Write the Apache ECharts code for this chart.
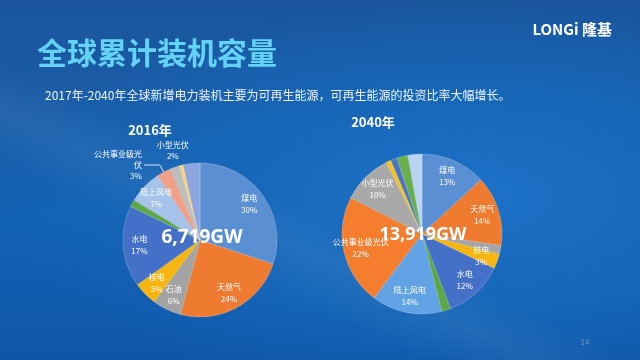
<!DOCTYPE html>
<html><head><meta charset="utf-8">
<script src="https://cdn.jsdelivr.net/npm/echarts@6/dist/echarts.min.js"></script>
<style>
html,body{margin:0;padding:0;width:640px;height:360px;overflow:hidden;}
body{
  background:
    linear-gradient(205deg, rgba(255,255,255,0) 55%, rgba(255,255,255,0.05) 62%, rgba(255,255,255,0) 70%),
    radial-gradient(ellipse at 72% 55%, #1d72c8 0%, #1767b9 35%, rgba(21,96,176,0) 70%),
    linear-gradient(180deg, #1a559c 0%, #1a5da8 30%, #1462b4 60%, #0f56a8 100%);
}
#c{width:640px;height:360px;}
</style></head><body><div id="c"></div>
<script>
// ---- data ----
const cats2016 = ['煤电','天然气','石油','核电','水电','生物质','陆上风电','公共事业级光伏','小型光伏','地热','其他'];
const vals2016 = [30, 24, 6, 5, 17, 1.5, 7, 3, 2, 0.8, 3.5];
const cats2040 = ['煤电','天然气','石油','核电','水电','生物质','陆上风电','公共事业级光伏','小型光伏','地热','海上风电','其他可再生','其他'];
const vals2040 = [13, 14, 1.7, 3, 12, 1.8, 14, 22, 10, 1.0, 1.3, 2.2, 2.8];
const total2016 = '6,719GW';
const total2040 = '13,919GW';
const year2016 = '2016年';
const year2040 = '2040年';
const unlabeled = ['生物质','地热','其他','海上风电','其他可再生'];
const unlabeled2040 = ['石油'];
const topLabel2016 = '小型光伏';

// ---- styles ----
const colors2016 = ['#5b8fd4','#ee7b30','#a3a3a3','#f7b50f','#4470c8','#5ea843','#a6c3ec','#f2a087','#bdbdbd','#ffd37a','#8ea6df'];
const colors2040 = ['#5b8fd4','#ee7b30','#a5a5a5','#f7b50f','#4470c8','#5ea843','#62a3e6','#f47d2e','#a9a9a9','#f9c31e','#4a74c8','#6ab04a','#b9d4f2'];

const C1 = [200, 240], R1 = 77;
const C2 = [422, 234], R2 = 80;
const FONT = '"Noto Sans CJK SC", "Noto Sans", sans-serif';

function baseSeries(cats, vals, colors, c, r){
  return {
    type:'pie', center:c, radius:r, silent:true, startAngle:90, clockwise:true,
    label:{show:false}, labelLine:{show:false},
    itemStyle:{borderColor:'rgba(255,255,255,0.35)', borderWidth:0.6},
    data: cats.map((n,i)=>({name:n, value:vals[i], itemStyle:{color:colors[i]}}))
  };
}
function labelSeries(cats, vals, c, r, hidden, special){
  return {
    type:'pie', center:c, radius:[r*0.5, r], silent:true, startAngle:90, clockwise:true,
    avoidLabelOverlap:false,
    itemStyle:{color:'rgba(0,0,0,0)'},
    label:{show:true, position:'inside', formatter:p=>p.name+'\n'+Math.round(p.value)+'%',
      color:'#fff', fontSize:8, lineHeight:12, fontFamily:FONT},
    labelLine:{show:false},
    data: cats.map((n,i)=>{
      const d = {name:n, value:vals[i]};
      if (hidden.indexOf(n) >= 0) d.label = {show:false};
      else if (special && special[n]) Object.assign(d, special[n]);
      return d;
    })
  };
}

const special2016 = {
  '公共事业级光伏': {
    label:{position:'outside', width:50, overflow:'break', lineHeight:11, distanceToLabelLine:2},
    labelLine:{show:true, length:8, length2:16, lineStyle:{color:'#d6e4f5', width:1}}
  }
};

// mid-angle point of a slice (outside the rim), computed from the data
function rimPoint(vals, idx, c, r){
  const sum = vals.reduce((a,b)=>a+b,0);
  let acc = 0; for (let i=0;i<idx;i++) acc += vals[i];
  const a = (acc + vals[idx]/2)/sum*2*Math.PI;
  return [c[0] + r*Math.sin(a), c[1] - r*Math.cos(a)];
}
const topIdx = cats2016.indexOf(topLabel2016);
const topPt = rimPoint(vals2016, topIdx, C1, R1 + 6);

const chart = echarts.init(document.getElementById('c'), null, {renderer:'canvas'});
chart.setOption({
  backgroundColor:'transparent',
  animation:false,
  series:[
    baseSeries(cats2016, vals2016, colors2016, C1, R1),
    labelSeries(cats2016, vals2016, C1, R1, unlabeled.concat([topLabel2016]), special2016),
    baseSeries(cats2040, vals2040, colors2040, C2, R2),
    labelSeries(cats2040, vals2040, C2, R2, unlabeled.concat(unlabeled2040), null)
  ],
  graphic:[
    {type:'text', left:37, top:38, style:{text:'全球累计装机容量', fill:'#63d3f5', font:'bold 30px '+FONT,
      shadowColor:'rgba(120,220,255,0.6)', shadowBlur:6}},
    {type:'text', left:45, top:89, style:{text:'2017年-2040年全球新增电力装机主要为可再生能源，可再生能源的投资比率大幅增长。',
      fill:'#eef3fb', font:'12px '+FONT}},
    {type:'text', right:28, top:22, style:{text:'LONGi 隆基', fill:'#ffffff', font:'bold 15px '+FONT}},
    {type:'text', x:585, y:342, style:{text:'14', fill:'#6f93c8', font:'8px '+FONT, align:'center', verticalAlign:'middle'}},
    {type:'text', x:150, y:130, style:{text:year2016, fill:'#ffffff', font:'bold 13px '+FONT, align:'center', verticalAlign:'middle'}},
    {type:'text', x:373, y:122, style:{text:year2040, fill:'#ffffff', font:'bold 13px '+FONT, align:'center', verticalAlign:'middle'}},
    {type:'text', x:topPt[0], y:topPt[1], z:100, style:{text:topLabel2016+'\n'+Math.round(vals2016[topIdx])+'%',
      fill:'#ffffff', font:'8px '+FONT, lineHeight:11, align:'center', verticalAlign:'bottom'}},
    {type:'text', x:C1[0]+2, y:C1[1]-2, z:100, style:{text:total2016, fill:'#ffffff', font:'bold 19px "Open Sans", sans-serif',
      align:'center', verticalAlign:'middle', shadowColor:'rgba(0,0,0,0.3)', shadowBlur:3}},
    {type:'text', x:C2[0]+1, y:C2[1]+1, z:100, style:{text:total2040, fill:'#ffffff', font:'bold 18px "Open Sans", sans-serif',
      align:'center', verticalAlign:'middle', shadowColor:'rgba(0,0,0,0.3)', shadowBlur:3}}
  ]
});
</script>
</body></html>
